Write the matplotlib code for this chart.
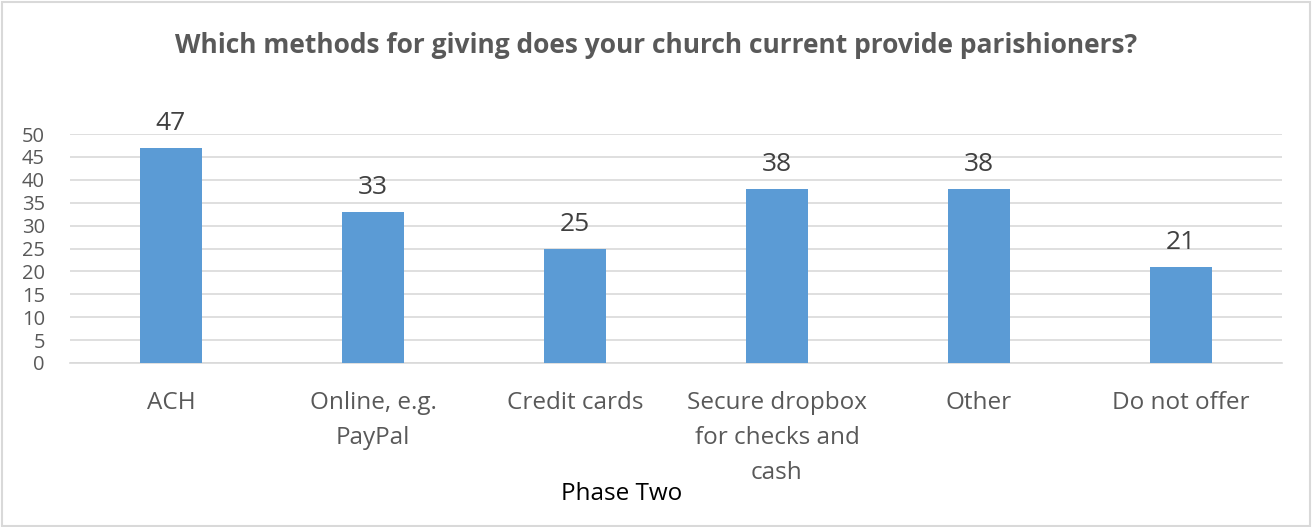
import matplotlib.pyplot as plt
from matplotlib.patches import Rectangle

plt.rcParams['font.family'] = ['Open Sans', 'DejaVu Sans']

categories = ["ACH", "Online, e.g.\nPayPal", "Credit cards",
              "Secure dropbox\nfor checks and\ncash", "Other", "Do not offer"]
counts = [47, 33, 25, 38, 38, 21]

bar_color = '#5B9BD5'
text_grey = '#595959'
grid_grey = '#D9D9D9'

fig = plt.figure(figsize=(13.12, 5.27), dpi=100)
ax = fig.add_axes([70 / 1312, 1 - 363 / 527, 1212 / 1312, 229 / 527])

x = range(len(categories))
bars = ax.bar(x, counts, width=0.31, color=bar_color, zorder=3)
for b, v in zip(bars, counts):
    ax.text(b.get_x() + b.get_width() / 2, v + 2.6, str(v), ha='center', va='bottom',
            fontsize=19, color='#404040')

ax.set_xlim(-0.5, len(categories) - 0.5)
ax.set_ylim(0, 50)
ax.set_yticks(range(0, 51, 5))
ax.yaxis.grid(True, color=grid_grey, linewidth=1.2, zorder=0)
ax.set_xticks(list(x))
ax.set_xticklabels(categories, fontsize=17.5, color=text_grey, linespacing=1.62, va='top')
ax.tick_params(axis='x', length=0, pad=20)
ax.tick_params(axis='y', length=0, pad=18, labelsize=14.5, labelcolor=text_grey)
for side in ['top', 'right', 'left']:
    ax.spines[side].set_visible(False)
ax.spines['bottom'].set_color(grid_grey)
ax.spines['bottom'].set_linewidth(1.2)

fig.text(0.5, 1 - 45 / 527, "Which methods for giving does your church current provide parishioners?",
         ha='center', va='center', fontsize=19, fontweight='bold', color=text_grey)
fig.text(622 / 1312, 1 - 494 / 527, "Phase Two", ha='center', va='center', fontsize=17.5, color='black')

fig.patches.append(Rectangle((2 / 1312, 1 / 527), 1308 / 1312, 524 / 527, transform=fig.transFigure,
                             fill=False, edgecolor='#D9D9D9', linewidth=1.5))

fig.savefig('out.png', dpi=100, facecolor='white')
